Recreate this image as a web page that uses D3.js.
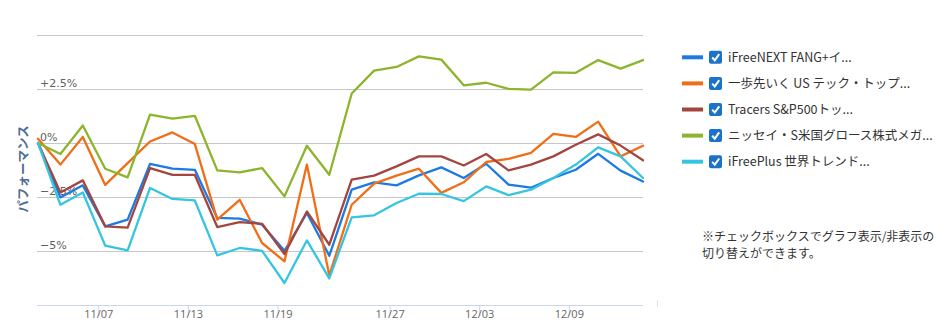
<!DOCTYPE html>
<html><head><meta charset="utf-8">
<script src="https://cdn.jsdelivr.net/npm/d3@7"></script>
<style>
html,body{margin:0;padding:0;background:#fff;}
svg{display:block;font-family:"Noto Sans CJK JP","Noto Sans",sans-serif;}
</style></head>
<body><svg id="c" width="950" height="328"></svg>
<script>
// trading days (2018)
const dates = ["11/02","11/05","11/06","11/07","11/08","11/09","11/12","11/13","11/14","11/15","11/16","11/19","11/20","11/21","11/22","11/26","11/27","11/28","11/29","11/30","12/03","12/04","12/06","12/07","12/10","12/11","12/12","12/13"];
const tickLabels = ["11/07","11/13","11/19","11/27","12/03","12/09"];
const tickIndex = [2.69,6.69,10.69,15.69,19.69,23.69];
const yTicks = [5,2.5,0,-2.5,-5];
const yTickLabels = ["","+2.5%","0%","−2.5%","−5%"];
const seriesNames = ["iFreeNEXT FANG+イ...","一歩先いく US テック・トップ...","Tracers S&P500トッ...","ニッセイ・S米国グロース株式メガ...","iFreePlus 世界トレンド..."];
const seriesColors = ["#1c7ae3","#f06e17","#a3463f","#8cb42c","#35c5e0"];
const fang = [0,-2.52,-1.96,-3.86,-3.55,-0.97,-1.19,-1.24,-3.47,-3.50,-3.78,-4.99,-3.24,-5.22,-2.16,-1.82,-1.96,-1.50,-1.13,-1.62,-0.96,-1.93,-2.07,-1.62,-1.24,-0.50,-1.28,-1.78];
const ippo = [0.2,-1.00,0.28,-1.94,-0.93,0.07,0.49,-0.05,-3.55,-2.63,-4.63,-5.48,-1.00,-6.13,-2.86,-1.88,-1.51,-1.19,-2.31,-1.82,-0.88,-0.74,-0.46,0.42,0.28,0.99,-0.62,-0.13];
const tracers = [0,-2.29,-1.73,-3.86,-3.92,-1.16,-1.48,-1.48,-3.89,-3.66,-3.74,-5.14,-3.17,-4.71,-1.70,-1.51,-1.08,-0.62,-0.62,-1.04,-0.51,-1.27,-1.00,-0.62,-0.08,0.40,-0.12,-0.80];
const nissay = [0,-0.51,0.81,-1.19,-1.59,1.31,1.13,1.26,-1.27,-1.36,-1.16,-2.47,-0.13,-1.47,2.29,3.35,3.52,4.01,3.86,2.67,2.79,2.51,2.47,3.27,3.25,3.84,3.44,3.84];
const ifreeplus = [0,-2.86,-2.29,-4.75,-4.97,-2.08,-2.59,-2.66,-5.20,-4.86,-4.99,-6.48,-4.51,-6.27,-3.44,-3.35,-2.78,-2.35,-2.36,-2.69,-2.01,-2.41,-2.16,-1.62,-1.00,-0.20,-0.62,-1.62];
const series = [fang, ippo, tracers, nissay, ifreeplus];
const yAxisTitle = "パフォーマンス";
const noteLines = ["※チェックボックスでグラフ表示/非表示の","切り替えができます。"];

const svg = d3.select("#c");
const x = d3.scaleLinear().domain([0, dates.length-1]).range([38, 643]);
const y = d3.scaleLinear().domain([-7.5, 5]).range([305, 35]);

// gridlines
svg.append("g").selectAll("line").data(yTicks).join("line")
  .attr("x1", 37).attr("x2", 643)
  .attr("y1", d => Math.round(y(d))+0.5).attr("y2", d => Math.round(y(d))+0.5)
  .attr("stroke", "#c6c6c6").attr("stroke-width", 1);

// y labels
svg.append("g").selectAll("text").data(yTicks).join("text")
  .attr("x", 40).attr("y", d => y(d) - 2.5)
  .attr("font-size", 11).attr("fill", "#606060")
  .attr("font-family", "'DejaVu Sans','Noto Sans',sans-serif")
  .text((d,i) => yTickLabels[i]);

// x axis
const xAxis = d3.axisBottom(x).tickValues(tickIndex).tickFormat((d,i) => tickLabels[i]).tickSize(11).tickSizeOuter(0);
const gx = svg.append("g").attr("transform", "translate(0,305)").call(xAxis);
gx.select(".domain").attr("stroke", "#ccd6eb").attr("d", "M37,0.5H643");
gx.selectAll(".tick line").attr("stroke", "#ccd6eb");
gx.selectAll(".tick text").attr("fill", "#666").attr("font-size", 11).attr("dy", 0).attr("y", 13)
  .attr("font-family", "'Open Sans','Noto Sans',sans-serif");
svg.append("line").attr("x1", 657.5).attr("x2", 657.5).attr("y1", 300).attr("y2", 307).attr("stroke", "#dde3ee");

// y title
svg.append("text").attr("transform", "translate(28,169) rotate(-90)")
  .attr("text-anchor", "middle").attr("font-size", 12.5).attr("font-weight", "bold")
  .attr("fill", "#4f6c93").text(yAxisTitle);

// lines
const line = d3.line().x((d,i) => x(i)).y(d => y(d)).curve(d3.curveLinear);
svg.append("g").selectAll("path").data(series).join("path")
  .attr("d", d => line(d)).attr("fill", "none")
  .attr("stroke", (d,i) => seriesColors[i]).attr("stroke-width", 2.3)
  .attr("stroke-linejoin", "round").attr("stroke-linecap", "round");

// legend
const lg = svg.append("g").selectAll("g").data(seriesNames).join("g")
  .attr("transform", (d,i) => `translate(0,${57.3 + i*26.1})`);
lg.append("line").attr("x1", 682).attr("x2", 703).attr("y1", 0).attr("y2", 0)
  .attr("stroke", (d,i) => seriesColors[i]).attr("stroke-width", 4);
lg.append("rect").attr("x", 709).attr("y", -6.5).attr("width", 13).attr("height", 13).attr("rx", 2)
  .attr("fill", "#1a73c8");
lg.append("path").attr("d", "M712.2,0.2 L714.8,3 L719.2,-3.2").attr("fill", "none")
  .attr("stroke", "#fff").attr("stroke-width", 2);
lg.append("text").attr("x", 728).attr("y", 4.5).attr("font-size", 12.5).attr("fill", "#333")
  .text(d => d);

// note
svg.append("g").selectAll("text").data(noteLines).join("text")
  .attr("x", 702).attr("y", (d,i) => 241 + i*16.5).attr("font-size", 12).attr("fill", "#333")
  .text(d => d);
</script></body></html>
